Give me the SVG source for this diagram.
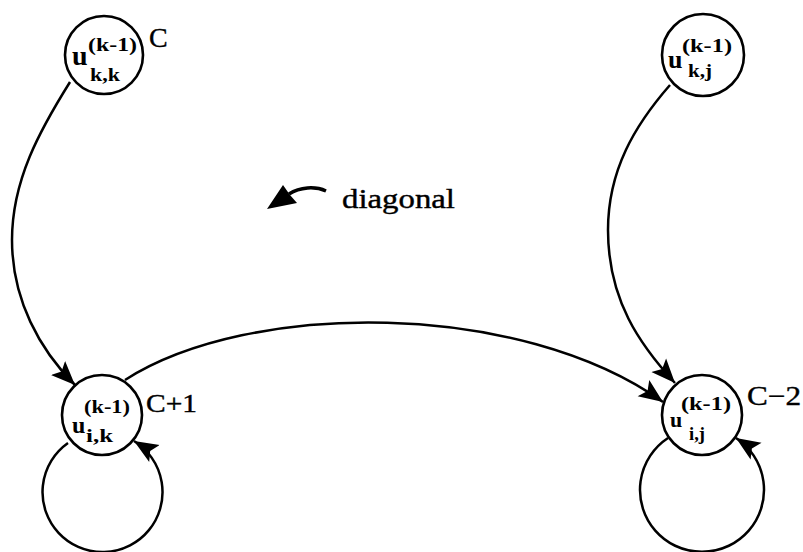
<svg xmlns="http://www.w3.org/2000/svg" width="803" height="552" viewBox="0 0 803 552">
<style>
.node{fill:none;stroke:#000;stroke-width:2.6}
.edge{fill:none;stroke:#000;stroke-width:2.5}
.u{font-family:"Liberation Serif","DejaVu Serif",serif;font-weight:bold;fill:#000}
.s{font-family:"Liberation Serif","DejaVu Serif",serif;font-weight:bold;font-size:19px;fill:#000}
.lbl{font-family:"Liberation Serif","DejaVu Serif",serif;fill:#000;stroke:#000;stroke-width:0.4}
</style>
<defs>
<marker id="ah" markerUnits="userSpaceOnUse" markerWidth="28" markerHeight="24" refX="24" refY="12" orient="auto">
<path d="M0,2 L24,12 L0,22 L5,12 Z" fill="#000"/>
</marker>
</defs>
<rect width="803" height="552" fill="#fff"/>
<g id="connectors">
<path class="edge" d="M70,82 C40,130 12,180 12,240 C12,300 40,350 75,385" marker-end="url(#ah)"/>
<path class="edge" d="M670,85 C635,125 608,170 608,230 C608,300 640,345 675,383" marker-end="url(#ah)"/>
<path class="edge" d="M125,380 C250,300 520,300 663,402" marker-end="url(#ah)"/>
<path class="edge" d="M68,443 A60,60 0 1 0 134,441" marker-end="url(#ah)"/>
<path class="edge" d="M668,438 A62,62 0 1 0 736,438" marker-end="url(#ah)"/>
</g>
<g id="diagonal-label">
<path d="M326,191 C315,186 300,187 289,194" fill="none" stroke="#000" stroke-width="3.5"/>
<polygon points="267,209 283,185 290,195 297,203" fill="#000"/>
<text class="lbl" x="342" y="208" font-size="28" textLength="113" lengthAdjust="spacingAndGlyphs">diagonal</text>
</g>
<g id="node-ukk">
<circle class="node" cx="104" cy="55" r="39"/>
<text class="u" x="72" y="65" font-size="28">u</text>
<text class="s" x="88" y="51" textLength="49" lengthAdjust="spacingAndGlyphs">(k-1)</text>
<text class="s" x="90" y="81" textLength="30" lengthAdjust="spacingAndGlyphs">k,k</text>
<text class="lbl" x="149" y="47" font-size="28">C</text>
</g>
<g id="node-ukj">
<circle class="node" cx="703" cy="55" r="41"/>
<text class="u" x="668" y="68" font-size="26">u</text>
<text class="s" x="682" y="52" textLength="50" lengthAdjust="spacingAndGlyphs">(k-1)</text>
<text class="s" x="688" y="77" textLength="24" lengthAdjust="spacingAndGlyphs">k,j</text>
</g>
<g id="node-uik">
<circle class="node" cx="102" cy="415" r="40"/>
<text class="u" x="72" y="433" font-size="24">u</text>
<text class="s" x="84" y="413" textLength="46" lengthAdjust="spacingAndGlyphs">(k-1)</text>
<text class="s" x="86" y="442" textLength="27" lengthAdjust="spacingAndGlyphs">i,k</text>
<text class="lbl" x="146" y="412" font-size="25" textLength="51" lengthAdjust="spacingAndGlyphs">C+1</text>
</g>
<g id="node-uij">
<circle class="node" cx="702" cy="415" r="40"/>
<text class="u" x="670" y="427" font-size="22">u</text>
<text class="s" x="681" y="410" textLength="50" lengthAdjust="spacingAndGlyphs">(k-1)</text>
<text class="s" x="689" y="440" textLength="16" lengthAdjust="spacingAndGlyphs">i,j</text>
<text class="lbl" x="747" y="405" font-size="27" textLength="54" lengthAdjust="spacingAndGlyphs">C−2</text>
</g>
</svg>
